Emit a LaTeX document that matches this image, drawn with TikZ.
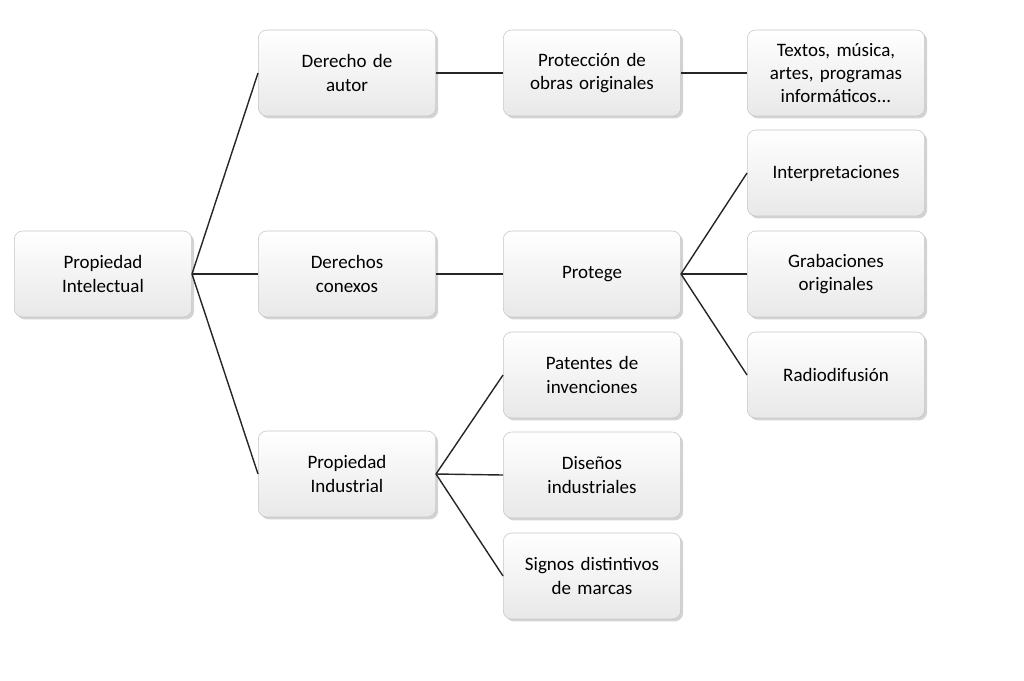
\documentclass[tikz,border=0pt]{standalone}
\usepackage{fontspec}
\setmainfont{Carlito}
\usetikzlibrary{shadows}
\begin{document}
\begin{tikzpicture}[x=0.025cm,y=-0.025cm,
    caja/.style={rounded corners=6pt, draw=gray!45, top color=white, bottom color=gray!18,
      minimum width=4.35cm, minimum height=2.15cm, align=center, text width=4.2cm,
      font=\fontsize{13.5}{16.5}\selectfont, drop shadow={shadow xshift=0.6mm,shadow yshift=-0.6mm,opacity=0.35}},
    rama/.style={black!85, line width=1pt}]

    % Marco de la imagen
    \useasboundingbox (0,0) rectangle (1024,680);

    % Nivel 1
    \node[caja] (intelectual) at (103,274) {Propiedad\\Intelectual};

    % Nivel 2
    \node[caja] (autor) at (347,73) {Derecho de\\autor};
    \node[caja] (conexos) at (347,274) {Derechos\\conexos};
    \node[caja] (industrial) at (347,474) {Propiedad\\Industrial};

    % Nivel 3
    \node[caja] (proteccion) at (592,73) {Protección de\\obras originales};
    \node[caja] (protege) at (592,274) {Protege};
    \node[caja] (patentes) at (592,375) {Patentes de\\invenciones};
    \node[caja] (disenos) at (592,475) {Diseños\\industriales};
    \node[caja] (signos) at (592,576) {Signos distintivos\\de marcas};

    % Nivel 4
    \node[caja] (textos) at (836,73) {Textos, música,\\artes, programas\\informáticos...};
    \node[caja] (interpret) at (836,173) {Interpretaciones};
    \node[caja] (grabaciones) at (836,274) {Grabaciones\\originales};
    \node[caja] (radio) at (836,375) {Radiodifusión};

    % Conexiones
    \foreach \a/\b in {intelectual/autor, intelectual/conexos, intelectual/industrial,
        autor/proteccion, proteccion/textos, conexos/protege,
        protege/interpret, protege/grabaciones, protege/radio,
        industrial/patentes, industrial/disenos, industrial/signos}
      \draw[rama] (\a.east) -- (\b.west);
\end{tikzpicture}
\end{document}
